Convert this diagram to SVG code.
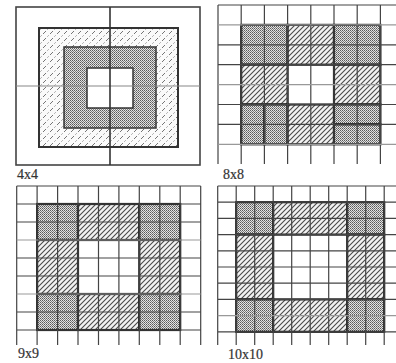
<svg xmlns="http://www.w3.org/2000/svg" width="396" height="363" viewBox="0 0 396 363">
<defs>
<pattern id="hatch" width="5" height="5" patternUnits="userSpaceOnUse">
<rect width="5" height="5" fill="#f2f2f2"/>
<path d="M-1,6L6,-1M-1,1L1,-1M4,6L6,4" stroke="#4a4a4a" stroke-width="1.1"/>
</pattern>
<pattern id="hatch1" width="7" height="7" patternUnits="userSpaceOnUse">
<rect width="7" height="7" fill="#fafafa"/>
<path d="M1,6L4,3M5.5,1.5L6.5,0.5" stroke="#666" stroke-width="0.9"/>
</pattern>
<pattern id="stip" width="2" height="2" patternUnits="userSpaceOnUse">
<rect width="2" height="2" fill="#e2e2e2"/>
<rect width="1" height="1" fill="#5a5a5a"/>
<rect x="1" y="1" width="1" height="1" fill="#808080"/>
</pattern>
<style>
.g{stroke:#444;stroke-width:1.2;fill:none}
.gl{stroke:#999;stroke-width:1.2;fill:none}
.h{fill:url(#hatch);stroke:#222;stroke-width:2.2}
.s{fill:url(#stip);stroke:#222;stroke-width:2.2}
.lbl{font-family:"Liberation Serif",serif;font-size:14px;fill:#333;stroke:#333;stroke-width:0.2}
</style>
</defs>

<g id="panel-4x4">
<rect x="16" y="7" width="184" height="158" fill="#fff" stroke="#444" stroke-width="1.6"/>
<rect x="39" y="28" width="139" height="119" fill="url(#hatch1)" stroke="#333" stroke-width="2"/>
<rect x="64" y="47" width="92" height="81" fill="url(#stip)" stroke="#333" stroke-width="1.5"/>
<rect x="87" y="68" width="46" height="40" fill="#fff" stroke="#333" stroke-width="1.5"/>
<line x1="16" y1="86" x2="200" y2="86" stroke="#888" stroke-width="1.2"/>
<line x1="110" y1="7" x2="110" y2="165" stroke="#333" stroke-width="1.6"/>
<text class="lbl" x="17" y="179">4x4</text>
</g>

<g id="panel-8x8">
<rect x="241.2" y="24.9" width="46.4" height="39.8" class="s"/>
<rect x="287.6" y="24.9" width="46.4" height="39.8" class="h"/>
<rect x="334" y="24.9" width="46.4" height="39.8" class="s"/>
<rect x="241.2" y="64.7" width="46.4" height="39.8" class="h"/>
<rect x="334" y="64.7" width="46.4" height="39.8" class="h"/>
<rect x="241.2" y="104.5" width="23.2" height="39.8" class="s"/>
<rect x="264.4" y="104.5" width="23.2" height="39.8" class="s"/>
<rect x="287.6" y="104.5" width="46.4" height="39.8" class="h"/>
<rect x="334" y="104.5" width="46.4" height="19.9" class="s"/>
<rect x="334" y="124.4" width="46.4" height="19.9" class="s"/>
<path class="g" d="M218,5H396M218,44.8H396M218,64.7H396M218,104.5H396M218,124.4H396M218,5V164M241.2,5V164M264.4,5V164M287.6,5V164M310.8,5V164M334,5V164M357.2,5V164M380.4,5V164"/>
<path class="gl" d="M218,24.9H396M218,84.6H396M218,144.3H396"/>
<text class="lbl" x="223" y="179">8x8</text>
</g>

<g id="panel-9x9">
<rect x="37.1" y="204" width="40.9" height="36" class="s"/>
<rect x="78" y="204" width="61.3" height="36" class="h"/>
<rect x="139.3" y="204" width="40.9" height="36" class="s"/>
<rect x="37.1" y="240" width="40.9" height="54" class="h"/>
<rect x="139.3" y="240" width="40.9" height="54" class="h"/>
<rect x="37.1" y="294" width="40.9" height="36" class="s"/>
<rect x="78" y="294" width="61.3" height="36" class="h"/>
<rect x="139.3" y="294" width="40.9" height="36" class="s"/>
<path class="g" d="M16.7,186H200.7M16.7,204H200.7M16.7,222H200.7M16.7,258H200.7M16.7,276H200.7M16.7,312H200.7M16.7,330H200.7M16.7,186V345M37.1,186V345M57.6,186V345M78,186V345M98.5,186V345M118.9,186V345M139.3,186V345M159.8,186V345M180.2,186V345M200.7,186V345"/>
<path class="gl" d="M16.7,240H200.7M16.7,294H200.7"/>
<text class="lbl" x="18" y="358">9x9</text>
</g>

<g id="panel-10x10">
<rect x="236.2" y="202.2" width="37" height="32.4" class="s"/>
<rect x="273.2" y="202.2" width="74" height="32.4" class="h"/>
<rect x="347.2" y="202.2" width="37" height="32.4" class="s"/>
<rect x="236.2" y="234.6" width="37" height="64.8" class="h"/>
<rect x="347.2" y="234.6" width="37" height="64.8" class="h"/>
<rect x="236.2" y="299.4" width="37" height="32.4" class="s"/>
<rect x="273.2" y="299.4" width="74" height="32.4" class="h"/>
<rect x="347.2" y="299.4" width="37" height="32.4" class="s"/>
<path class="g" d="M217.7,186H396M217.7,202.2H396M217.7,218.4H396M217.7,234.6H396M217.7,250.8H396M217.7,267H396M217.7,283.2H396M217.7,299.4H396M217.7,331.8H396M217.7,186V345M236.2,186V345M254.7,186V345M273.2,186V345M291.7,186V345M310.2,186V345M328.7,186V345M347.2,186V345M365.7,186V345M384.2,186V345"/>
<path class="gl" d="M217.7,315.6H396"/>
<text class="lbl" x="228" y="359">10x10</text>
</g>
</svg>
